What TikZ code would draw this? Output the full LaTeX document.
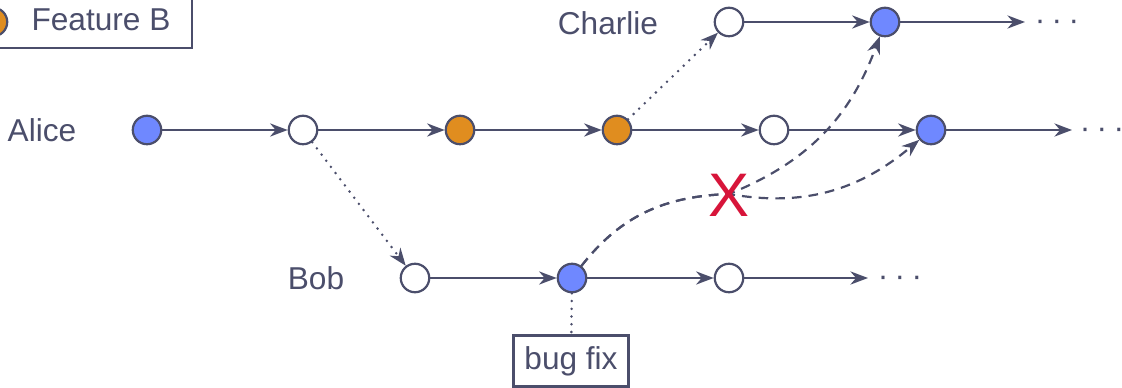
\documentclass[tikz,border=0pt]{standalone}
\usepackage{fontspec}
\setmainfont{Liberation Sans}
\usetikzlibrary{arrows.meta}
\definecolor{ink}{HTML}{4B4E6B}
\definecolor{fillblue}{HTML}{6F88FF}
\definecolor{fillorange}{HTML}{E08D1F}
\definecolor{xred}{HTML}{D7153A}
\begin{document}
\begin{tikzpicture}[x=0.02cm,y=0.02cm,
  every node/.style={text=ink,font=\fontsize{18}{21}\selectfont},
  commit/.style={circle,draw=ink,line width=1.25pt,minimum size=0.57cm,inner sep=0pt,fill=white},
  bluec/.style={commit,fill=fillblue},
  orangec/.style={commit,fill=fillorange},
  flow/.style={draw=ink,line width=1.25pt,-{Stealth[length=10pt,width=7.5pt,inset=3.2pt]}},
  fork/.style={flow,line width=1.6pt,line cap=round,dash pattern=on 0pt off 4.4pt},
  merge/.style={flow,dash pattern=on 5.5pt off 4pt},
  tag/.style={draw=ink,line width=1.25pt,inner sep=0pt},
  dotsl/.style={text=ink,inner sep=0pt}]
\useasboundingbox (0,0) rectangle (1122,-388);
% legend
\node[tag,minimum width=4.04cm,minimum height=1.16cm] (legend) at (91,-19) {};
\node[orangec] (legc) at (-7,-22) {};
\node (legt) at (101,-20) {Feature B};
% labels
\node (alice) at (42,-130) {Alice};
\node (charlie) at (608,-23) {Charlie};
\node (bob) at (316,-278) {Bob};
% Alice row
\node[bluec] (a1) at (147,-130) {};
\node[commit] (a2) at (303,-130) {};
\node[orangec] (a3) at (460,-130) {};
\node[orangec] (a4) at (617,-130) {};
\node[commit] (a5) at (774,-130) {};
\node[bluec] (a6) at (931,-130) {};
\coordinate (aend) at (1072,-130);
\node[dotsl] (adots) at (1102,-133) {·\hspace{0.2em}·\hspace{0.2em}·};
% Charlie row
\node[commit] (c1) at (729,-22) {};
\node[bluec] (c2) at (885,-22) {};
\coordinate (cend) at (1025,-22);
\node[dotsl] (cdots) at (1057,-25) {·\hspace{0.2em}·\hspace{0.2em}·};
% Bob row
\node[commit] (b1) at (415,-278) {};
\node[bluec] (b2) at (572,-278) {};
\node[commit] (b3) at (729,-278) {};
\coordinate (bend) at (868,-278);
\node[dotsl] (bdots) at (900,-281) {·\hspace{0.2em}·\hspace{0.2em}·};
% bug fix
\node[tag,minimum width=2.3cm,minimum height=1.02cm] (bug) at (571,-361) {bug fix};
% edges
\draw[flow] (a1) -- (a2);
\draw[flow] (a2) -- (a3);
\draw[flow] (a3) -- (a4);
\draw[flow] (a4) -- (a5);
\draw[flow] (a5) -- (a6);
\draw[flow] (a6) -- (aend);
\draw[flow] (c1) -- (c2);
\draw[flow] (c2) -- (cend);
\draw[flow] (b1) -- (b2);
\draw[flow] (b2) -- (b3);
\draw[flow] (b3) -- (bend);
\draw[fork] (a2) -- (b1);
\draw[fork] (a4) -- (c1);
\draw[draw=ink,line width=1.6pt,line cap=round,dash pattern=on 0pt off 4.4pt] (b2) -- (bug);
% merges
\coordinate (xc) at (729,-194);
\draw[merge] (b2) to[out=52,in=182] (xc) to[out=22,in=-110] (c2);
\draw[merge] (b2) to[out=52,in=182] (xc) to[out=-10,in=-140] (a6);
\node[text=xred,font=\fontsize{35}{40}\selectfont] (cross) at (729,-195) {X};
\end{tikzpicture}
\end{document}
